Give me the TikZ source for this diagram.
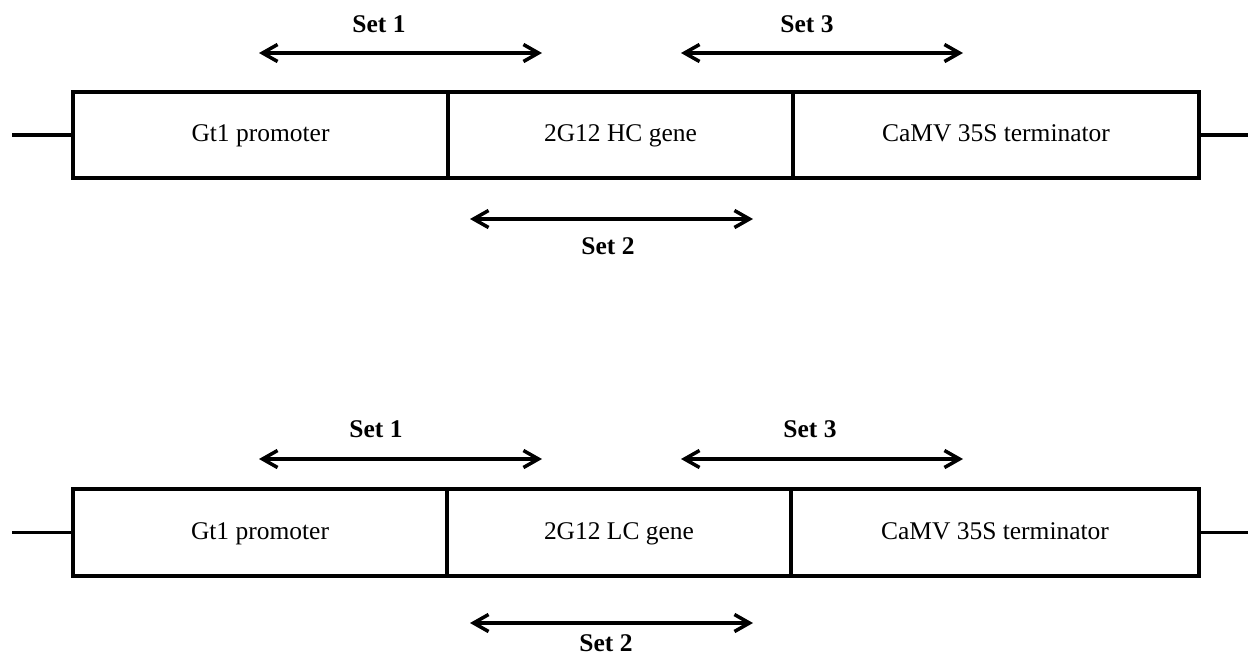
\documentclass[tikz,border=0pt]{standalone}
\usepackage{fontspec}
\setmainfont{Liberation Serif}
\usetikzlibrary{arrows.meta}

\tikzset{
  part/.style={draw, line width=2pt, inner sep=0pt, minimum height=1.72cm,
    text height=2ex, text depth=0.3ex, font=\fontsize{14.5}{17}\selectfont},
  setlabel/.style={font=\fontsize{14.5}{17}\selectfont\bfseries, inner sep=0pt},
  primer/.style={line width=2pt, {Straight Barb[length=3mm,width=3.4mm]}-{Straight Barb[length=3mm,width=3.4mm]}},
  flank/.style={line width=2pt}
}

\begin{document}
\begin{tikzpicture}[x=0.02cm,y=-0.02cm]
  \useasboundingbox (0,0) rectangle (1248,657);
  \begin{scope}
    % heavy chain construct
    \node[part, minimum width=7.5cm]  (promH) at (260.5,135) {Gt1 promoter};
    \node[part, minimum width=6.9cm]  (geneH) at (620.5,135) {2G12 HC gene};
    \node[part, minimum width=8.12cm] (termH) at (996,135)   {CaMV 35S terminator};

    \coordinate (endHl) at (12,135);
    \coordinate (endHr) at (1248,135);
    \draw[flank] (endHl) -- (promH.west);
    \draw[flank] (termH.east) -- (endHr);

    \coordinate (s1Ha) at (259,53);
    \coordinate (s1Hb) at (542,53);
    \coordinate (s3Ha) at (681,53);
    \coordinate (s3Hb) at (963,53);
    \coordinate (s2Ha) at (470,219);
    \coordinate (s2Hb) at (753,219);

    \node[setlabel] (set1H) at (379,24)  {Set 1};
    \node[setlabel] (set3H) at (807,24)  {Set 3};
    \node[setlabel] (set2H) at (608,246) {Set 2};

    \draw[primer] (s1Ha) -- (s1Hb);
    \draw[primer] (s3Ha) -- (s3Hb);
    \draw[primer] (s2Ha) -- (s2Hb);
  \end{scope}

  \begin{scope}
    % light chain construct
    \node[part, minimum width=7.48cm, minimum height=1.74cm] (promL) at (260,532.5) {Gt1 promoter};
    \node[part, minimum width=6.88cm, minimum height=1.74cm] (geneL) at (619,532.5) {2G12 LC gene};
    \node[part, minimum width=8.16cm, minimum height=1.74cm] (termL) at (995,532.5) {CaMV 35S terminator};

    \coordinate (endLl) at (12,532.5);
    \coordinate (endLr) at (1248,532.5);
    \draw[flank] (endLl) -- (promL.west);
    \draw[flank] (termL.east) -- (endLr);

    \coordinate (s1La) at (259,459);
    \coordinate (s1Lb) at (542,459);
    \coordinate (s3La) at (681,459);
    \coordinate (s3Lb) at (963,459);
    \coordinate (s2La) at (470,623);
    \coordinate (s2Lb) at (753,623);

    \node[setlabel] (set1L) at (376,429) {Set 1};
    \node[setlabel] (set3L) at (810,429) {Set 3};
    \node[setlabel] (set2L) at (606,643) {Set 2};

    \draw[primer] (s1La) -- (s1Lb);
    \draw[primer] (s3La) -- (s3Lb);
    \draw[primer] (s2La) -- (s2Lb);
  \end{scope}
\end{tikzpicture}
\end{document}
